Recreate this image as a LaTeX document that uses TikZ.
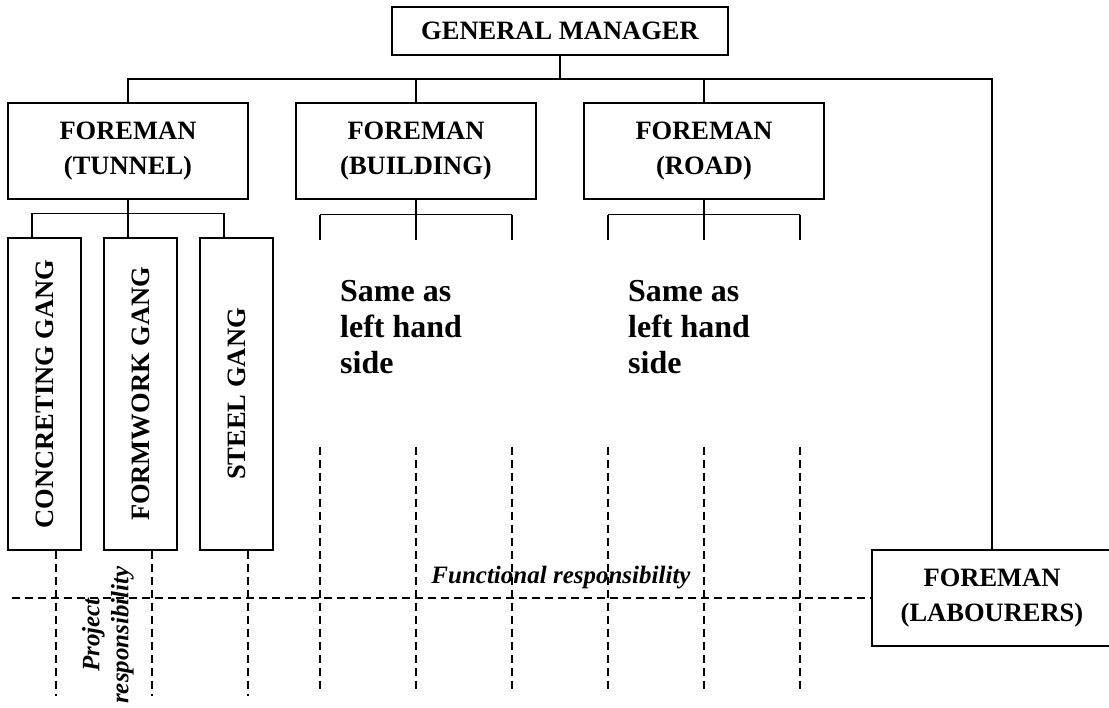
\documentclass[tikz,border=0pt]{standalone}
\usepackage{fontspec}
\setmainfont{Liberation Serif}
\usepackage{graphicx}
\usetikzlibrary{calc}
\begin{document}
\begin{tikzpicture}[x=1pt,y=-1pt,
  box/.style={draw,line width=1.4pt,font=\bfseries\fontsize{26.5}{35}\selectfont,align=center,inner sep=0pt,minimum width=240pt,minimum height=96pt},
  gangbox/.style={box,minimum width=73pt,minimum height=312pt},
  link/.style={line width=1.4pt},
  dotline/.style={line width=1.2pt,dash pattern=on 8pt off 5pt},
  note/.style={font=\bfseries\fontsize{32}{36}\selectfont,align=left,anchor=north west,inner sep=0pt},
  resp/.style={font=\bfseries\itshape\fontsize{25}{29}\selectfont,align=center,inner sep=0pt}]
  \useasboundingbox (0,0) rectangle (1109,708);
  \node[box,minimum width=336pt,minimum height=48pt] (gm) at (560,31) {GENERAL MANAGER};
  \node[box] (tun) at (128,151) {FOREMAN\\(TUNNEL)};
  \node[box] (bld) at (416,151) {FOREMAN\\(BUILDING)};
  \node[box] (road) at (704,151) {FOREMAN\\(ROAD)};
  \node[box] (lab) at (992,598) {FOREMAN\\(LABOURERS)};
  \node[gangbox] (cg) at (44.5,394) {\rotatebox{90}{CONCRETING GANG}};
  \node[gangbox] (fg) at (140.5,394) {\rotatebox{90}{FORMWORK GANG}};
  \node[gangbox] (sg) at (236.5,394) {\rotatebox{90}{STEEL GANG}};
  \node[note] (sb) at (340,280) {Same as\\left hand\\side};
  \node[note] (sr) at (628,280) {Same as\\left hand\\side};
  \node[resp,anchor=base] (fr) at (561,583) {Functional responsibility};
  \node[resp,rotate=90] (pr) at (108,635) {Project\\responsibility};
  \coordinate (bus) at (0,79);
  \coordinate (fl) at (12,598);
  \draw[link] (gm.south) -- (gm.south |- bus);
  \draw[link] (tun.north) |- (lab.north |- bus) -- (lab.north);
  \draw[link] (bld.north) -- (bld.north |- bus);
  \draw[link] (road.north) -- (road.north |- bus);
  \draw[link] (tun.south) -- ++(0,15);
  \draw[link] ($(cg.north)+(-12.5,-24)$) -- ($(sg.north)+(-12.5,-24)$);
  \foreach \g in {cg,fg,sg}{
    \draw[link] ($(\g.north)+(-12.5,-24)$) -- ($(\g.north)+(-12.5,0)$);
    \draw[dotline] ($(\g.south)+(11.5,0)$) -- ++(0,145);
  }
  \foreach \f in {bld,road}{
    \draw[link] (\f.south) -- ++(0,15);
    \draw[link] ($(\f.south)+(-96,15)$) -- ++(192,0);
    \foreach \dx in {-96,0,96}{
      \draw[link] ($(\f.south)+(\dx,15)$) -- ++(0,25);
      \draw[dotline] ($(\f.south)+(\dx,247)$) -- ++(0,242);
    }
  }
  \draw[dotline] (fl) -- (lab.west);
\end{tikzpicture}
\end{document}
